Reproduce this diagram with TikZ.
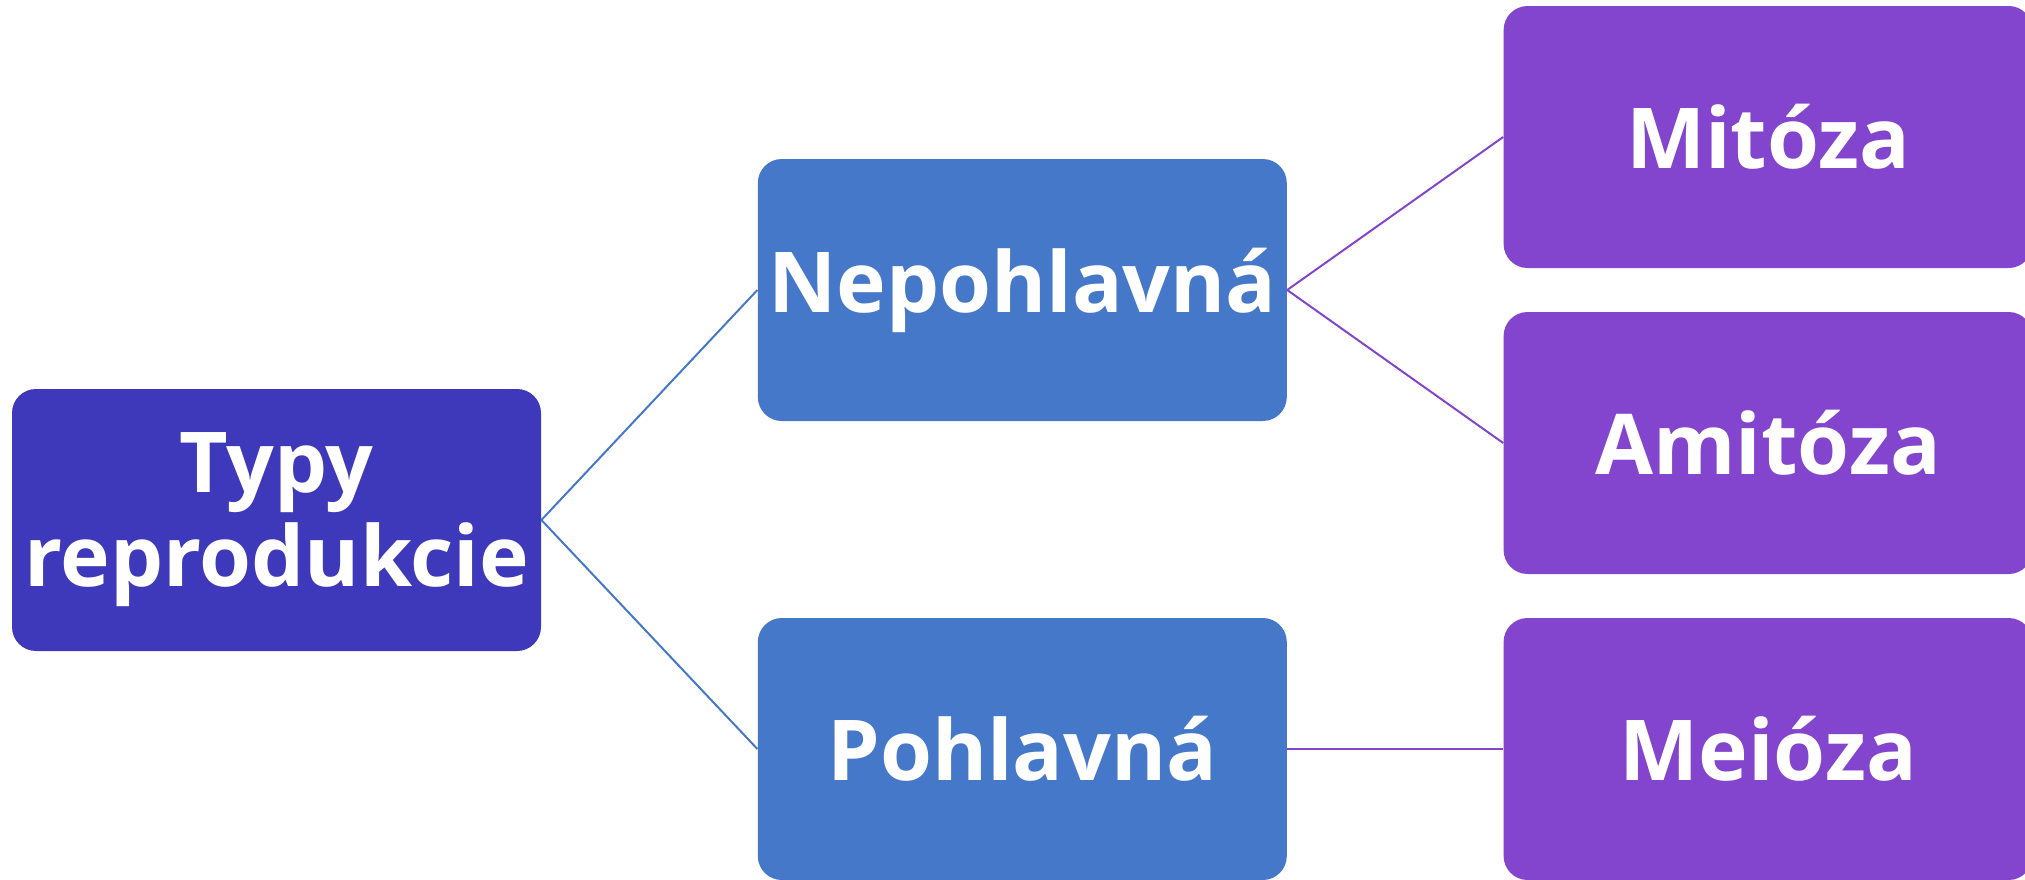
\documentclass[tikz,border=0pt]{standalone}
\usepackage{fontspec}
\setmainfont{Open Sans}
\usetikzlibrary{positioning}

\definecolor{rootblue}{RGB}{62,57,186}
\definecolor{midblue}{RGB}{70,120,202}
\definecolor{leafpurple}{RGB}{131,69,205}

\begin{document}
\begin{tikzpicture}
  [box/.style={rectangle, rounded corners=12pt, inner sep=0pt,
     minimum width=264.5pt, minimum height=131pt, align=center,
     text=white, font=\bfseries\fontsize{42}{47}\selectfont},
   rootbox/.style={box, fill=rootblue},
   midbox/.style={box, fill=midblue},
   leafbox/.style={box, fill=leafpurple},
   midline/.style={draw=midblue, line width=1pt},
   leafline/.style={draw=leafpurple, line width=1pt}]
  \useasboundingbox (0,0) rectangle (1012.5pt,-439.5pt);

  \node [rootbox] (typy) at (138.25pt,-260pt) {Typy\\reprodukcie};

  \node [midbox, right=108pt of typy, yshift=115pt] (nepohl) {Nepohlavná};
  \node [midbox, right=108pt of typy, yshift=-114.5pt] (pohl) {Pohlavná};

  \node [leafbox, right=108pt of nepohl, yshift=76.5pt] (mitoza) {Mitóza};
  \node [leafbox, right=108pt of nepohl, yshift=-76.5pt] (amitoza) {Amitóza};
  \node [leafbox, right=108pt of pohl] (meioza) {Meióza};

  \foreach \kid in {nepohl,pohl}{
    \draw [midline] (typy.east) -- (\kid.west);
    };
  \foreach \kid in {mitoza,amitoza}{
    \draw [leafline] (nepohl.east) -- (\kid.west);
    };
  \draw [leafline] (pohl.east) -- (meioza.west);
\end{tikzpicture}
\end{document}
